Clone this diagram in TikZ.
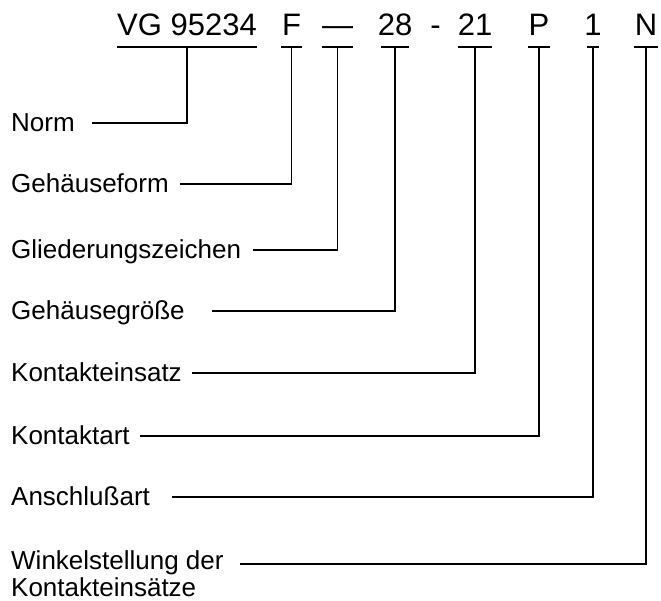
\documentclass[tikz,border=0pt]{standalone}
\usepackage{fontspec}
\setmainfont{Liberation Sans}
\usepackage{tikz}
\tikzset{
  code/.style={anchor=base,inner xsep=0pt,inner ysep=12pt,text depth=0pt,font=\fontsize{31}{36}\selectfont},
  lbl/.style={anchor=base west,inner sep=0pt,align=left,font=\fontsize{26}{27}\selectfont},
  lead/.style={line width=1.9pt}
}

\begin{document}
\begin{tikzpicture}[x=1pt,y=-1pt]
  \useasboundingbox (0,0) rectangle (661,600);
  % designation, one bar under each part
  \foreach \nm/\txt/\cx/\bw in {vg/{VG 95234}/187/140, f/F/291.5/21, gl/{—}/337.5/31,
      gr/28/395/28, ki/21/475/34, ka/P/539/22, an/1/593/12, wi/N/646/24}{
    \node[code] (\nm) at (\cx,35) {\txt};
    \draw[lead] ([xshift=-\bw/2]\nm.south) -- ([xshift=\bw/2]\nm.south);
  }
  \node[code] (hyph) at (435.5,35) {-};
  % meanings, led in from the left (last one has two lines)
  \foreach \nm/\txt/\ly/\dy/\sx in {vg/Norm/123/8/92, f/Gehäuseform/184/8/180,
      gl/Gliederungszeichen/250/8/253, gr/Gehäusegröße/311/8/212,
      ki/Kontakteinsatz/373/8/192, ka/Kontaktart/436/8/140,
      an/Anschlußart/497/8/172, wi/{Winkelstellung der\\Kontakteinsätze}/564/32/240}{
    \node[lbl] (\nm-lab) at (11,\ly+\dy) {\txt};
    \coordinate (\nm-in) at (\sx,\ly);
    \draw[lead] (\nm.south) |- (\nm-in);
  }
\end{tikzpicture}
\end{document}
